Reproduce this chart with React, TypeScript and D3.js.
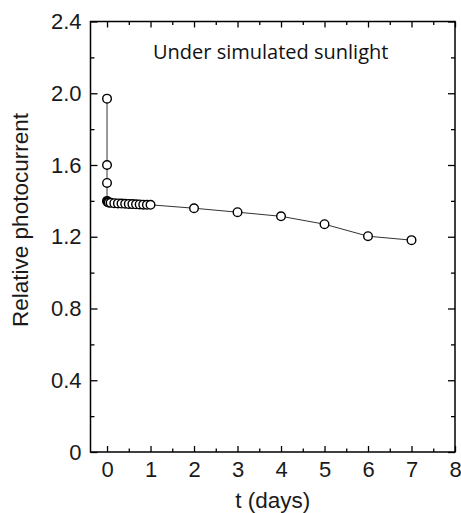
import React, { useEffect, useRef } from 'react';
import * as d3 from 'd3';

// time in days and relative photocurrent
const days = [0, 0, 0, 0, 0.01, 0.02, 0.04, 0.083, 0.167, 0.25, 0.333, 0.417, 0.5, 0.583, 0.667, 0.75, 0.833, 0.917, 1, 2, 3, 4, 5, 6, 7];
const photocurrent = [1.97, 1.6, 1.5, 1.4, 1.395, 1.393, 1.391, 1.389, 1.387, 1.386, 1.385, 1.384, 1.383, 1.382, 1.381, 1.38, 1.379, 1.378, 1.378, 1.359, 1.337, 1.314, 1.27, 1.203, 1.181];

const xMajorTicks = [0, 1, 2, 3, 4, 5, 6, 7, 8];
const xMinorTicks = [0.5, 1.5, 2.5, 3.5, 4.5, 5.5, 6.5, 7.5];
const yMajorTicks = [0, 0.4, 0.8, 1.2, 1.6, 2.0, 2.4];
const yMinorTicks = [0.2, 0.6, 1.0, 1.4, 1.8, 2.2];

const W = 461;
const H = 513;
const margin = { top: 21.5, right: 6, bottom: 61, left: 90.5 };

const App: React.FC = () => {
  const svgRef = useRef<SVGSVGElement>(null);

  useEffect(() => {
    if (!svgRef.current) return;
    const svg = d3.select(svgRef.current);
    svg.selectAll('*').remove();

    const width = W - margin.left - margin.right;
    const height = H - margin.top - margin.bottom;

    const x = d3.scaleLinear().domain([-0.38, 8]).range([0, width]);
    const y = d3.scaleLinear().domain([0, 2.4]).range([height, 0]);

    const g = svg.append('g').attr('transform', `translate(${margin.left},${margin.top})`);

    const font = '"Liberation Sans", Arial, sans-serif';

    const styleAxis = (sel: d3.Selection<SVGGElement, unknown, null, undefined>) => {
      sel.select('.domain').remove();
      sel.selectAll('line').attr('stroke', '#000').attr('stroke-width', 1.3);
      sel.selectAll('text').attr('fill', '#1a1a1a').style('font-family', font).style('font-size', '22px');
    };

    // bottom axis
    g.append('g')
      .attr('transform', `translate(0,${height})`)
      .call(d3.axisBottom(x).tickValues(xMajorTicks).tickSize(-6).tickPadding(9.5).tickFormat(d3.format('d')))
      .call(styleAxis);
    g.append('g')
      .attr('transform', `translate(0,${height})`)
      .call(d3.axisBottom(x).tickValues(xMinorTicks).tickSize(-3.5).tickFormat(() => ''))
      .call(styleAxis);

    // top axis
    g.append('g')
      .call(d3.axisTop(x).tickValues(xMajorTicks).tickSize(-6).tickFormat(() => ''))
      .call(styleAxis);
    g.append('g')
      .call(d3.axisTop(x).tickValues(xMinorTicks).tickSize(-3.5).tickFormat(() => ''))
      .call(styleAxis);

    // left axis
    g.append('g')
      .call(d3.axisLeft(y).tickValues(yMajorTicks).tickSize(-7).tickPadding(9)
        .tickFormat(d => (+d === 0 ? '0' : (+d).toFixed(1))))
      .call(styleAxis);
    g.append('g')
      .call(d3.axisLeft(y).tickValues(yMinorTicks).tickSize(-4).tickFormat(() => ''))
      .call(styleAxis);

    // right axis
    g.append('g')
      .attr('transform', `translate(${width},0)`)
      .call(d3.axisRight(y).tickValues(yMajorTicks).tickSize(-7).tickFormat(() => ''))
      .call(styleAxis);
    g.append('g')
      .attr('transform', `translate(${width},0)`)
      .call(d3.axisRight(y).tickValues(yMinorTicks).tickSize(-4).tickFormat(() => ''))
      .call(styleAxis);

    // frame
    g.append('rect')
      .attr('width', width)
      .attr('height', height)
      .attr('fill', 'none')
      .attr('stroke', '#000')
      .attr('stroke-width', 1.5);

    const pts = days.map((d, i) => [d, photocurrent[i]] as [number, number]);

    g.append('path')
      .datum(pts)
      .attr('fill', 'none')
      .attr('stroke', '#333')
      .attr('stroke-width', 1)
      .attr('d', d3.line<[number, number]>().x(d => x(d[0])).y(d => y(d[1])));

    g.selectAll('.pt')
      .data(pts)
      .enter().append('circle')
      .attr('class', 'pt')
      .attr('cx', d => x(d[0]))
      .attr('cy', d => y(d[1]))
      .attr('r', 4.3)
      .attr('fill', '#fff')
      .attr('stroke', '#000')
      .attr('stroke-width', 1.4);

    // annotation
    g.append('text')
      .attr('x', 153 - margin.left)
      .attr('y', 58.5 - margin.top)
      .style('font-family', '"Open Sans", sans-serif')
      .style('font-size', '20px')
      .attr('fill', '#111')
      .text('Under simulated sunlight');

    // axis titles
    svg.append('text')
      .attr('x', margin.left + width / 2)
      .attr('y', 508)
      .attr('text-anchor', 'middle')
      .style('font-family', font)
      .style('font-size', '22.5px')
      .attr('fill', '#1a1a1a')
      .text('t (days)');

    svg.append('text')
      .attr('transform', 'rotate(-90)')
      .attr('x', -220)
      .attr('y', 28)
      .attr('text-anchor', 'middle')
      .style('font-family', font)
      .style('font-size', '22.5px')
      .attr('fill', '#1a1a1a')
      .text('Relative photocurrent');
  }, []);

  return (
    <svg ref={svgRef} width={W} height={H}
      style={{ position: 'absolute', left: 0, top: 0, background: '#fff' }} />
  );
};

export default App;
